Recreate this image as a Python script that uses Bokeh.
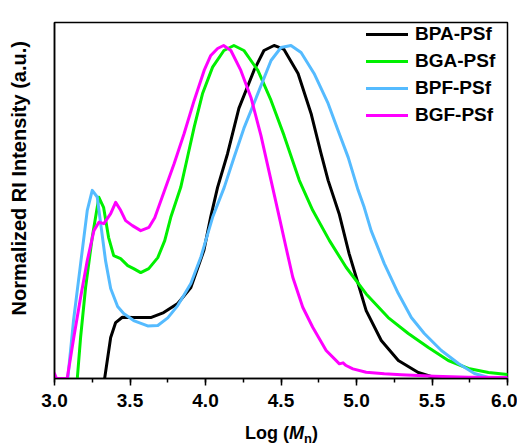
from bokeh.plotting import figure
from bokeh.models import Range1d, SingleIntervalTicker, FixedTicker, PrintfTickFormatter, Legend, LegendItem, Div
from bokeh.layouts import column
from bokeh.embed import file_html
from bokeh.resources import INLINE

# ---- data ----
bpa_x = [3.332, 3.372, 3.405, 3.449, 3.524, 3.637, 3.723, 3.816, 3.903, 3.989, 4.035, 4.080, 4.146, 4.221,
         4.321, 4.387, 4.454, 4.520, 4.613, 4.699, 4.765, 4.812, 4.885, 4.951, 5.018, 5.064, 5.164, 5.277,
         5.409, 5.515, 6.0]
bpa_y = [0.0, 0.123, 0.168, 0.184, 0.183, 0.183, 0.198, 0.225, 0.273, 0.384, 0.486, 0.574, 0.675, 0.811,
         0.925, 0.985, 1.0, 0.988, 0.916, 0.796, 0.676, 0.595, 0.495, 0.375, 0.274, 0.204, 0.114, 0.054,
         0.018, 0.003, 0.0]

bga_x = [3.151, 3.173, 3.206, 3.250, 3.294, 3.325, 3.358, 3.392, 3.438, 3.485, 3.524, 3.571, 3.624, 3.684,
         3.730, 3.770, 3.836, 3.881, 3.925, 3.980, 4.047, 4.122, 4.188, 4.254, 4.347, 4.434, 4.520, 4.621,
         4.710, 4.821, 4.931, 5.064, 5.210, 5.343, 5.476, 5.608, 5.741, 5.874, 6.0]
bga_y = [0.0, 0.124, 0.274, 0.424, 0.544, 0.514, 0.424, 0.369, 0.360, 0.339, 0.330, 0.318, 0.330, 0.363,
         0.414, 0.484, 0.574, 0.665, 0.755, 0.855, 0.935, 0.985, 1.0, 0.985, 0.925, 0.835, 0.730, 0.595,
         0.505, 0.414, 0.334, 0.254, 0.183, 0.135, 0.093, 0.054, 0.030, 0.018, 0.012]

bpf_x = [3.088, 3.126, 3.173, 3.217, 3.250, 3.283, 3.305, 3.338, 3.372, 3.418, 3.458, 3.524, 3.617, 3.684,
         3.750, 3.816, 3.903, 3.969, 4.047, 4.124, 4.190, 4.254, 4.347, 4.434, 4.500, 4.566, 4.633, 4.719,
         4.812, 4.878, 4.945, 5.011, 5.051, 5.097, 5.184, 5.277, 5.363, 5.449, 5.562, 5.675, 5.781, 5.874, 6.0]
bpf_y = [0.0, 0.174, 0.345, 0.505, 0.565, 0.545, 0.468, 0.354, 0.270, 0.216, 0.195, 0.174, 0.158, 0.159,
         0.182, 0.219, 0.285, 0.364, 0.484, 0.574, 0.665, 0.751, 0.856, 0.955, 0.994, 1.0, 0.979, 0.916,
         0.826, 0.745, 0.664, 0.565, 0.514, 0.444, 0.345, 0.255, 0.183, 0.135, 0.084, 0.045, 0.015, 0.003, 0.0]

bgf_x = [3.0, 3.013, 3.084, 3.128, 3.173, 3.217, 3.261, 3.294, 3.327, 3.372, 3.405, 3.438, 3.471, 3.516,
         3.571, 3.626, 3.664, 3.725, 3.792, 3.858, 3.925, 3.991, 4.035, 4.080, 4.120, 4.168, 4.234, 4.301,
         4.367, 4.434, 4.489, 4.533, 4.578, 4.644, 4.710, 4.799, 4.887, 4.911, 4.931, 4.976, 5.064, 5.184,
         5.296, 5.515, 5.741, 6.0]
bgf_y = [0.015, 0.0, 0.0, 0.124, 0.244, 0.354, 0.444, 0.469, 0.465, 0.495, 0.529, 0.505, 0.474, 0.459,
         0.444, 0.454, 0.483, 0.560, 0.645, 0.735, 0.835, 0.925, 0.970, 0.991, 1.0, 0.985, 0.925, 0.844,
         0.730, 0.595, 0.484, 0.394, 0.304, 0.214, 0.154, 0.084, 0.044, 0.047, 0.039, 0.029, 0.019, 0.014,
         0.011, 0.007, 0.004, 0.003]

series_names = ["BPA-PSf", "BGA-PSf", "BPF-PSf", "BGF-PSf"]
series_colors = ["#000000", "#00F000", "#55BBFF", "#FF00FF"]
y_title = "\u00a0" * 8 + "Normalized RI Intensity (a.u.)"
x_title_html = ("Log (<i>M</i><span style='font-size:13px; vertical-align:-4px; line-height:0'>n</span>)")

FONT = "Liberation Sans"

p = figure(width=517, height=412, output_backend="svg", toolbar_location=None,
           x_range=Range1d(3.0, 6.0), y_range=Range1d(0.0, 1.069),
           min_border_left=54, min_border_right=10, min_border_top=22, min_border_bottom=34)
p.background_fill_color = "white"
p.border_fill_color = "white"
p.outline_line_color = "black"
p.outline_line_width = 1.5
p.xgrid.grid_line_color = None
p.ygrid.grid_line_color = None

# x axis
p.xaxis.ticker = SingleIntervalTicker(interval=0.5, num_minor_ticks=2)
p.xaxis.formatter = PrintfTickFormatter(format="%.1f")
p.xaxis.major_tick_in = 0
p.xaxis.major_tick_out = 7
p.xaxis.minor_tick_in = 0
p.xaxis.minor_tick_out = 4
p.xaxis.axis_line_width = 1.5
p.xaxis.major_tick_line_width = 1.5
p.xaxis.minor_tick_line_width = 1.5
p.xaxis.major_label_text_font = FONT
p.xaxis.major_label_text_font_style = "bold"
p.xaxis.major_label_text_font_size = "19px"
p.xaxis.major_label_text_color = "black"
p.xaxis.major_label_standoff = 8

# y axis
p.yaxis.ticker = FixedTicker(ticks=[])
p.yaxis.axis_line_width = 1.5
p.yaxis.axis_label = y_title
p.yaxis.axis_label_text_font = FONT
p.yaxis.axis_label_text_font_style = "bold"
p.yaxis.axis_label_text_font_size = "20px"
p.yaxis.axis_label_text_color = "black"
p.yaxis.axis_label_standoff = 25

xs = [bpa_x, bga_x, bpf_x, bgf_x]
ys = [bpa_y, bga_y, bpf_y, bgf_y]
renderers = []
for xv, yv, c in zip(xs, ys, series_colors):
    r = p.line(xv, yv, line_color=c, line_width=3, line_join="round", line_cap="round")
    renderers.append(r)

legend = Legend(items=[LegendItem(label=n, renderers=[r]) for n, r in zip(series_names, renderers)],
                location=(312, 252), margin=0, padding=2, spacing=5,
                glyph_width=42, glyph_height=20, label_height=20, label_standoff=7,
                border_line_color=None, background_fill_alpha=0)
legend.label_text_font = FONT
legend.label_text_font_style = "bold"
legend.label_text_font_size = "19px"
legend.label_text_color = "black"
p.add_layout(legend)

title = Div(text=x_title_html, width=517, height=34,
            styles={"font-family": FONT, "font-weight": "bold", "font-size": "18px",
                    "text-align": "center", "padding-left": "36px", "padding-top": "6px",
                    "line-height": "20px", "color": "black", "box-sizing": "border-box"})

layout = column(p, title, spacing=0)
open("out.html", "w").write(file_html(layout, INLINE))
